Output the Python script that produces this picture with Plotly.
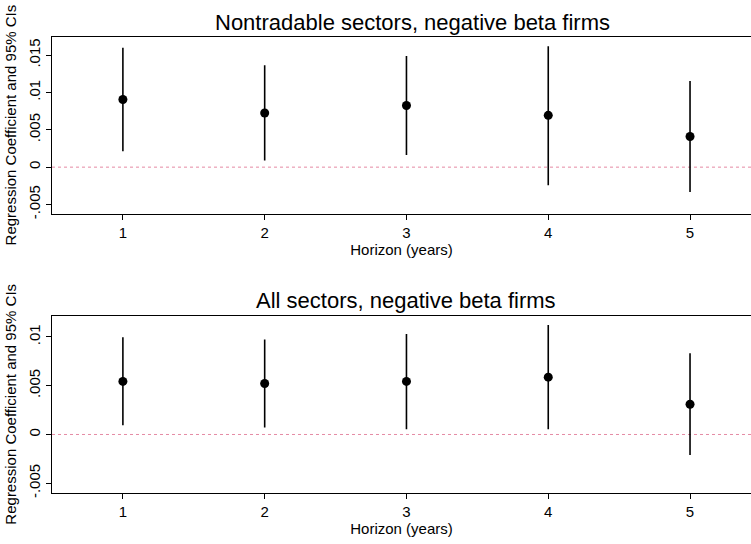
import plotly.graph_objects as go

horizon = [1, 2, 3, 4, 5]

# Panel 1: Nontradable sectors, negative beta firms
coef_nt = [0.00906, 0.00725, 0.00826, 0.00694, 0.00411]
lo_nt = [0.00212, 0.00089, 0.00163, -0.00243, -0.00332]
hi_nt = [0.0160, 0.01366, 0.0149, 0.0162, 0.01154]

# Panel 2: All sectors, negative beta firms
coef_all = [0.00544, 0.00523, 0.00544, 0.00588, 0.0031]
lo_all = [0.00094, 0.00071, 0.00054, 0.00054, -0.0021]
hi_all = [0.00997, 0.00974, 0.0103, 0.01122, 0.00832]

ticks_nt = [-0.005, 0, 0.005, 0.01, 0.015]
ticklab_nt = ["-.005", "0", ".005", ".01", ".015"]
ticks_all = [-0.005, 0, 0.005, 0.01]
ticklab_all = ["-.005", "0", ".005", ".01"]

titles = ["Nontradable sectors, negative beta firms", "All sectors, negative beta firms"]
xtitle = "Horizon (years)"
ytitle = "Regression Coefficient and 95% CIs"

FONT = "Liberation Sans, Arial, Helvetica, sans-serif"
W, H = 751, 544

fig = go.Figure()

def add_panel(coef, lo, hi, xa, ya):
    fig.add_trace(go.Scatter(
        x=horizon, y=coef, mode="markers",
        marker=dict(color="black", size=9),
        error_y=dict(type="data", symmetric=False,
                     array=[h - c for h, c in zip(hi, coef)],
                     arrayminus=[c - l for l, c in zip(lo, coef)],
                     color="black", thickness=1.6, width=0),
        xaxis=xa, yaxis=ya, showlegend=False, hoverinfo="skip"))

add_panel(coef_nt, lo_nt, hi_nt, "x", "y")
add_panel(coef_all, lo_all, hi_all, "x2", "y2")

xl = 52 / W
dom_top = [1 - 216 / H, 1 - 37 / H]
dom_bot = [1 - 498.3 / H, 1 - 319.3 / H]

xcommon = dict(range=[0.5, 5.43], tickvals=horizon, ticktext=[str(h) for h in horizon],
               showline=True, linecolor="black", linewidth=1.3, mirror=True,
               ticks="outside", ticklen=5, tickcolor="black", showgrid=False, zeroline=False,
               tickfont=dict(family=FONT, size=15, color="black"),
               title=dict(text=xtitle, font=dict(family=FONT, size=15, color="black"), standoff=1),
               domain=[xl, 1.0])
ycommon = dict(showline=True, linecolor="black", linewidth=1.3, mirror=False,
               ticks="outside", ticklen=5, tickcolor="black", showgrid=False, zeroline=False,
               tickangle=-90, tickfont=dict(family=FONT, size=15, color="black"),
               title=dict(text=ytitle, font=dict(family=FONT, size=15, color="black"), standoff=5))

fig.update_layout(
    width=W, height=H, margin=dict(l=0, r=0, t=0, b=0),
    paper_bgcolor="white", plot_bgcolor="white",
    xaxis=dict(anchor="y", **xcommon),
    xaxis2=dict(anchor="y2", **xcommon),
    yaxis=dict(anchor="x", domain=dom_top, range=[-0.00623, 0.0175],
               tickvals=ticks_nt, ticktext=ticklab_nt, **ycommon),
    yaxis2=dict(anchor="x2", domain=dom_bot, range=[-0.00598, 0.01217],
                tickvals=ticks_all, ticktext=ticklab_all, **ycommon),
)

for ya, xa in [("y", "x"), ("y2", "x2")]:
    fig.add_shape(type="line", xref=f"{xa} domain", yref=ya, x0=0, x1=1, y0=0, y1=0,
                  line=dict(color="#E58AA4", width=1, dash="dot"), layer="below")

fig.add_annotation(text=titles[0], xref="paper", yref="paper", x=412 / W, y=1 - 23 / H,
                   showarrow=False, font=dict(family=FONT, size=22, color="black"),
                   xanchor="center", yanchor="middle")
fig.add_annotation(text=titles[1], xref="paper", yref="paper", x=406 / W, y=1 - 304 / H,
                   showarrow=False, font=dict(family=FONT, size=22, color="black"),
                   xanchor="center", yanchor="middle")

fig.write_html("out.html")
